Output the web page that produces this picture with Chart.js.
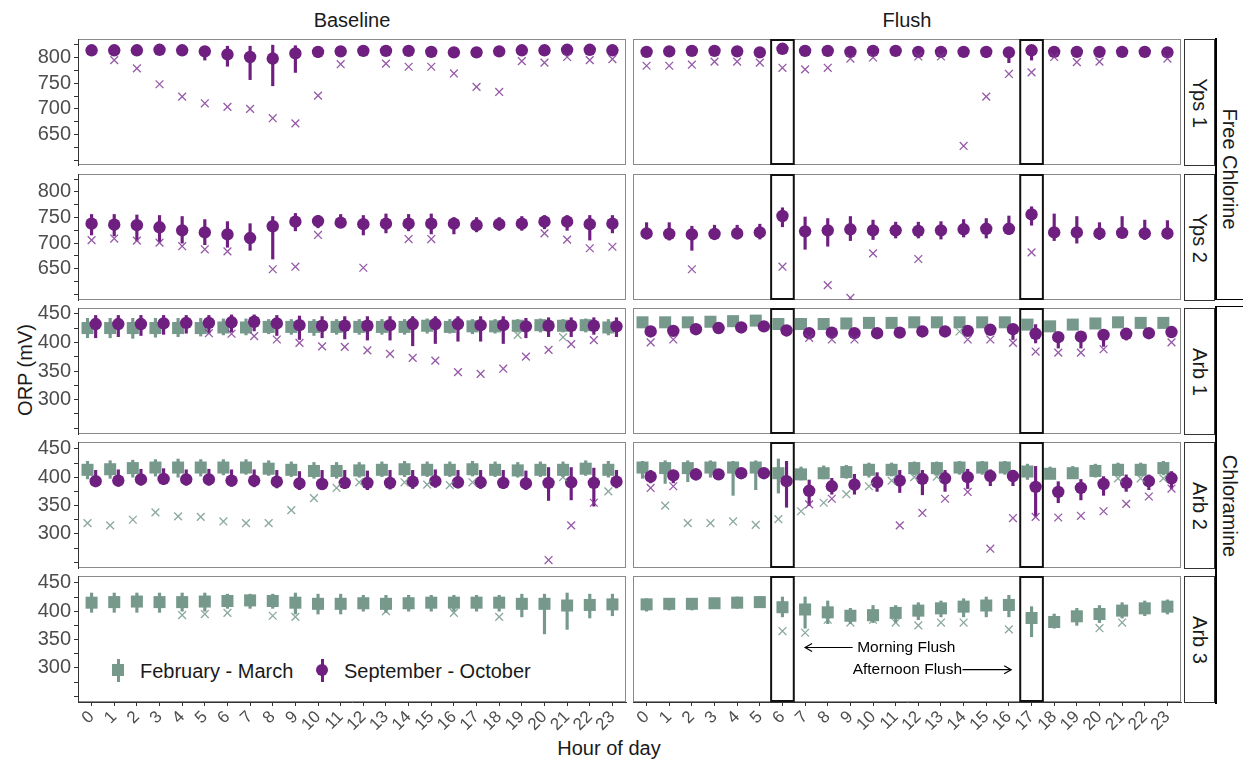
<!DOCTYPE html>
<html><head><meta charset="utf-8">
<script src="https://cdn.jsdelivr.net/npm/chart.js@4.4.1/dist/chart.umd.min.js"></script>
<style>
body{margin:0;background:#fff;width:1243px;height:762px;overflow:hidden;font-family:"Liberation Sans",Arial,sans-serif;}
#wrap{position:relative;width:1243px;height:762px;}
canvas{position:absolute;}
.txt{position:absolute;color:#1a1a1a;font-size:20px;white-space:nowrap;line-height:1;}
.strip{position:absolute;left:1184px;width:31px;height:127px;box-sizing:border-box;border:1px solid #333;background:#fff;}
.strip span,.grp span{position:absolute;left:50%;top:50%;transform:translate(-50%,-50%) rotate(90deg);font-size:20px;color:#1a1a1a;white-space:nowrap;line-height:1;}
.grp{position:absolute;left:1215px;width:28px;border-left:2px solid #000;box-sizing:border-box;}
.lg{position:absolute;}
</style></head>
<body><div id="wrap">
<div class="txt" style="left:352px;top:10px;transform:translateX(-50%);">Baseline</div>
<div class="txt" style="left:907px;top:10px;transform:translateX(-50%);">Flush</div>
<div class="txt" style="left:25px;top:370px;transform:translate(-50%,-50%) rotate(-90deg);">ORP (mV)</div>
<div class="txt" style="left:609px;top:738px;transform:translateX(-50%);">Hour of day</div>
<div class="strip" style="top:39px;"><span>Yps 1</span></div>
<div class="strip" style="top:174px;"><span>Yps 2</span></div>
<div class="strip" style="top:308px;"><span>Arb 1</span></div>
<div class="strip" style="top:442px;"><span>Arb 2</span></div>
<div class="strip" style="top:576px;"><span>Arb 3</span></div>
<div class="grp" style="top:38px;height:262px;border-bottom:1px solid #000;"><span>Free Chlorine</span></div>
<div class="grp" style="top:306px;height:398px;border-top:1px solid #000;"><span>Chloramine</span></div>
<div class="lg" style="left:117px;top:659px;width:2.5px;height:23px;background:#76998c;"></div>
<div class="lg" style="left:112px;top:664px;width:12px;height:12px;background:#76998c;"></div>
<div class="txt" style="left:140px;top:661px;color:#1a1a1a;">February - March</div>
<div class="lg" style="left:321px;top:659px;width:2.5px;height:23px;background:#6e1f80;"></div>
<div class="lg" style="left:316px;top:664px;width:12px;height:12px;border-radius:50%;background:#6e1f80;"></div>
<div class="txt" style="left:344px;top:661px;color:#1a1a1a;">September - October</div>
</div>
<script>
// ---------- data ----------
const hours = [0,1,2,3,4,5,6,7,8,9,10,11,12,13,14,15,16,17,18,19,20,21,22,23];
const hourLabels = ["0","1","2","3","4","5","6","7","8","9","10","11","12","13","14","15","16","17","18","19","20","21","22","23"];
const flushBoxHours = [6, 17];
const freeChlorineTicks = [600,625,650,675,700,725,750,775,800,825];
const freeChlorineLabels = [650,700,750,800];
const chloramineTicks = [250,275,300,325,350,375,400,425,450];
const chloramineLabels = [300,350,400,450];

// Yps 1 - Baseline - September-October
const yps1BaseSepMean = [814,814,814,815,814,812,806,801,798,808,811,812,813,813,813,811,810,810,812,814,814,815,815,814];
const yps1BaseSepLo   = [810,810,810,811,810,795,783,757,745,771,800,805,809,808,807,806,805,805,807,810,810,811,811,810];
const yps1BaseSepHi   = [818,818,818,819,818,817,822,822,824,823,818,817,817,817,818,816,815,815,816,818,818,819,819,818];
const yps1BaseSepMin  = [null,795,779,748,724,711,704,700,682,672,726,787,null,788,782,782,769,743,733,793,790,801,795,797];
// Yps 1 - Flush - September-October
const yps1FlushSepMean = [811,812,813,813,812,810,817,813,813,811,813,813,811,811,811,811,810,814,811,811,811,811,811,810];
const yps1FlushSepLo   = [807,808,809,809,808,806,813,809,809,807,809,809,807,807,807,800,790,795,807,807,807,807,807,804];
const yps1FlushSepHi   = [815,816,817,817,816,814,821,817,817,815,817,817,815,815,815,815,814,818,815,815,815,815,815,814];
const yps1FlushSepMin  = [784,784,786,792,792,790,780,777,780,798,800,null,802,802,628,724,768,771,801,791,792,null,null,798];

// Yps 2 - Baseline - September-October
const yps2BaseSepMean = [738,736,735,731,725,721,717,710,733,742,743,740,737,738,738,738,738,735,737,738,742,742,737,738];
const yps2BaseSepLo   = [716,714,705,702,700,697,692,686,669,724,730,730,716,720,724,718,718,722,725,725,728,725,706,720];
const yps2BaseSepHi   = [756,756,755,754,752,746,742,738,752,758,754,756,754,757,756,757,750,750,750,752,754,754,754,754];
const yps2BaseSepMin  = [706,709,705,701,694,688,684,null,649,654,716,null,652,null,708,708,null,null,null,null,719,707,690,693];
// Yps 2 - Flush - September-October
const yps2FlushSepMean = [719,718,717,718,719,721,753,723,725,727,725,725,724,725,727,728,728,756,721,721,719,720,719,719];
const yps2FlushSepLo   = [708,706,686,708,708,708,732,688,694,705,707,710,710,708,712,710,717,735,705,700,707,712,707,708];
const yps2FlushSepHi   = [740,740,733,735,735,737,769,751,748,752,745,741,741,742,746,748,753,771,757,752,740,752,745,744];
const yps2FlushSepMin  = [null,null,649,null,null,null,654,null,618,593,680,null,669,null,null,null,null,682,null,null,null,null,null,null];

// Arb 1 - Baseline
const arb1BaseFebMean = [425,425,425,425,425,425,426,426,427,427,427,427,427,427,427,429,427,428,428,429,430,429,430,426];
const arb1BaseFebLo   = [408,408,407,409,410,411,413,413,415,414,412,414,414,414,414,416,416,415,416,418,418,418,418,413];
const arb1BaseFebHi   = [442,442,442,442,442,442,441,441,440,440,440,440,440,440,440,441,440,440,440,440,441,440,441,440];
const arb1BaseFebMin  = [null,null,null,null,null,null,null,null,null,null,null,null,null,null,null,null,null,null,null,413,null,409,null,null];
const arb1BaseSepMean = [432,432,432,433,434,434,435,436,433,430,429,429,429,430,432,432,432,430,430,428,429,429,429,428];
const arb1BaseSepLo   = [408,410,412,414,416,416,418,420,412,405,408,406,404,404,394,398,402,402,398,408,410,410,414,410];
const arb1BaseSepHi   = [447,447,447,447,447,447,448,448,447,446,445,445,445,445,445,445,445,445,445,442,443,443,443,443];
const arb1BaseSepMin  = [null,null,null,null,null,416,415,411,405,399,393,392,386,380,373,368,348,345,354,375,387,397,404,null];
// Arb 1 - Flush
const arb1FlushFebMean = [435,435,435,436,437,438,432,432,432,433,434,434,435,435,435,435,435,431,428,431,433,435,434,434];
const arb1FlushFebLo   = [431,431,431,432,433,434,428,428,428,429,430,430,431,431,431,431,431,427,424,427,429,431,430,430];
const arb1FlushFebHi   = [439,439,439,440,441,442,436,436,436,437,438,438,439,439,439,439,439,435,432,435,437,439,438,438];
const arb1FlushFebMin  = [null,null,null,null,null,null,null,null,null,null,null,null,null,null,419,null,null,null,null,null,null,null,null,null];
const arb1FlushSepMean = [419,420,423,425,426,428,421,416,417,416,416,417,419,419,420,422,423,415,409,410,413,415,416,418];
const arb1FlushSepLo   = [415,416,419,421,422,424,411,412,413,412,412,413,415,415,416,417,405,399,390,390,393,404,411,412];
const arb1FlushSepHi   = [423,424,427,429,430,432,425,420,421,420,420,421,423,423,424,426,427,431,416,416,419,421,421,424];
const arb1FlushSepMin  = [400,405,null,null,null,null,null,408,405,405,null,null,null,null,405,405,399,384,382,382,388,null,null,400];

// Arb 2 - Baseline
const arb2BaseFebMean = [413,414,416,417,417,417,417,417,415,413,411,411,412,413,414,413,413,414,413,412,413,413,415,413];
const arb2BaseFebLo   = [397,398,400,402,400,402,404,405,403,401,398,398,400,401,401,401,401,402,401,400,401,401,403,400];
const arb2BaseFebHi   = [428,429,430,431,432,431,431,431,429,427,426,426,426,427,428,427,427,428,427,426,427,427,429,428];
const arb2BaseFebMin  = [319,315,325,338,331,330,322,319,319,342,363,381,391,null,391,387,386,391,null,null,null,400,null,375];
const arb2BaseSepMean = [393,394,396,397,396,396,394,394,392,389,388,390,390,390,392,393,391,391,390,389,390,391,390,392];
const arb2BaseSepLo   = [383,384,386,387,386,386,384,383,381,378,378,380,378,379,380,382,381,380,380,378,359,360,349,381];
const arb2BaseSepHi   = [412,413,414,415,413,414,413,413,412,410,412,412,411,412,412,413,412,412,412,411,417,417,416,412];
const arb2BaseSepMin  = [null,null,null,null,null,null,null,null,null,null,null,null,null,null,null,null,null,null,null,null,254,315,355,null];
// Arb 2 - Flush
const arb2FlushFebMean = [417,416,416,417,417,417,407,405,407,409,413,413,416,416,417,417,417,410,406,407,411,413,413,416];
const arb2FlushFebLo   = [398,389,392,400,368,378,372,395,397,398,400,402,404,404,405,405,405,396,398,398,400,402,402,404];
const arb2FlushFebHi   = [428,429,429,429,428,429,432,418,420,421,425,425,427,427,428,428,428,423,418,419,423,425,425,428];
const arb2FlushFebMin  = [null,350,319,319,322,316,326,340,355,370,384,394,400,401,null,null,null,null,null,null,null,398,398,398];
const arb2FlushSepMean = [401,403,405,405,407,407,393,376,384,387,391,394,397,398,400,402,402,383,374,381,388,390,393,398];
const arb2FlushSepLo   = [390,390,395,398,400,400,347,350,370,370,375,373,369,375,380,385,385,331,355,360,368,375,378,380];
const arb2FlushSepHi   = [412,412,415,414,416,416,428,395,398,405,408,412,412,412,414,413,412,419,392,396,401,404,404,410];
const arb2FlushSepMin  = [381,384,null,null,null,null,null,352,362,null,null,315,337,362,374,274,328,330,329,332,340,353,366,380];

// Arb 3 - Baseline / Flush (February-March only)
const arb3BaseFebMean = [415,416,417,416,416,417,418,419,418,415,413,413,414,413,414,415,415,415,415,413,413,410,411,412];
const arb3BaseFebLo   = [398,398,398,398,400,400,405,405,405,395,395,395,400,398,400,400,400,400,400,390,360,368,388,392];
const arb3BaseFebHi   = [432,432,432,432,432,432,430,430,430,432,430,430,428,428,428,428,428,428,428,430,430,432,430,430];
const arb3BaseFebMin  = [null,null,null,null,393,395,397,null,392,390,null,null,null,400,null,null,397,null,390,null,null,null,null,null];
const arb3FlushFebMean = [412,413,413,414,415,416,407,403,398,392,393,397,401,405,408,410,411,388,381,391,395,401,405,408];
const arb3FlushFebLo   = [400,402,402,405,405,408,390,370,378,378,380,380,385,390,390,390,390,355,370,375,380,388,392,395];
const arb3FlushFebHi   = [422,422,422,422,425,425,425,425,418,405,410,410,415,418,422,425,428,408,395,405,410,415,418,420];
const arb3FlushFebMin  = [null,null,null,null,null,null,365,362,385,380,385,380,375,380,380,null,368,null,null,null,370,380,null,null];

// ---------- styling ----------
const FONT = '"Liberation Sans", Arial, sans-serif';
Chart.defaults.font.family = FONT;
const PURPLE = '#6e1f80', PURPLE_X = 'rgba(130,60,150,0.85)';
const GREEN = '#76998c', GREEN_X = 'rgba(118,153,140,0.85)';
const DODGE = 0.18;

function sep(mean, lo, hi, mn, dx){ return {mean, lo, hi, mn, dx, color:PURPLE, xcolor:PURPLE_X, style:'circle'}; }
function feb(mean, lo, hi, mn, dx){ return {mean, lo, hi, mn, dx, color:GREEN, xcolor:GREEN_X, style:'rect'}; }

function buildDatasets(seriesList){
  const layers = [];
  seriesList.forEach(s => {
    layers.push({type:'bar', grouped:false, barThickness:2.5, backgroundColor:s.color, borderWidth:0,
      data: hours.map((h,i)=> s.mean[i]==null?null:{x:h+s.dx, y:[s.lo[i], s.hi[i]]}).filter(Boolean)});
    layers.push({type:'scatter', showLine:false, pointStyle:s.style, pointRadius:s.style==='rect'?8.5:6.2,
      pointHoverRadius:s.style==='rect'?8.5:6.2, pointBackgroundColor:s.color, pointBorderWidth:0, borderWidth:0,
      data: hours.map((h,i)=> s.mean[i]==null?null:{x:h+s.dx, y:s.mean[i]}).filter(Boolean)});
  });
  seriesList.forEach(s => {
    layers.push({type:'scatter', showLine:false, pointStyle:'crossRot', pointRadius:5.5, pointHoverRadius:5.5,
      pointBorderColor:s.xcolor, pointBorderWidth:1.3, pointBackgroundColor:'transparent',
      data: hours.map((h,i)=> s.mn[i]==null?null:{x:h+s.dx, y:s.mn[i]}).filter(Boolean)});
  });
  layers.forEach((d,i)=>{ d.order = layers.length - i; });
  return layers;
}

const decoPlugin = {
  id:'deco',
  beforeDraw(chart){
    const a = chart.chartArea, ctx = chart.ctx;
    ctx.save(); ctx.strokeStyle = '#8a8a8a'; ctx.lineWidth = 1;
    ctx.strokeRect(a.left+0.5, a.top+0.5, a.width-1, a.height-1); ctx.restore();
  },
  afterDatasetsDraw(chart){
    const o = chart.options.plugins.deco || {};
    const a = chart.chartArea, ctx = chart.ctx, xs = chart.scales.x, ys = chart.scales.y;
    if (o.flush) {
      ctx.save(); ctx.strokeStyle = '#111'; ctx.lineWidth = 2;
      flushBoxHours.forEach(h => {
        const x1 = xs.getPixelForValue(h-0.5), x2 = xs.getPixelForValue(h+0.5);
        ctx.strokeRect(x1, a.top+1, x2-x1, a.height-2);
      });
      ctx.restore();
    }
    if (o.notes) {
      ctx.save(); ctx.fillStyle = '#000'; ctx.strokeStyle = '#000'; ctx.lineWidth = 1.2;
      ctx.font = '15.5px ' + FONT; ctx.textBaseline = 'middle';
      o.notes.forEach(n => {
        const y = ys.getPixelForValue(n.y);
        ctx.textAlign = 'left';
        ctx.fillText(n.text, xs.getPixelForValue(n.tx), y);
        const x1 = xs.getPixelForValue(n.from), x2 = xs.getPixelForValue(n.to);
        ctx.beginPath(); ctx.moveTo(x1, y); ctx.lineTo(x2, y); ctx.stroke();
        const d = x2 > x1 ? -1 : 1;
        ctx.beginPath(); ctx.moveTo(x2 + d*7, y-4); ctx.lineTo(x2, y); ctx.lineTo(x2 + d*7, y+4); ctx.stroke();
      });
      ctx.restore();
    }
  }
};

const rowTops = [39, 174, 308, 442, 576];
const PH = 126, PW = 548;
const colLefts = [78, 633];

function makePanel(row, col, yMin, yMax, yTicks, yLabels, seriesList, extra){
  const isLeft = col === 0, isBottom = row === 4;
  const padL = isLeft ? 0 : 20;
  const axisW = isLeft ? 78 : 0;
  const cLeft = colLefts[col] - axisW - padL;
  const cTop = rowTops[row] - 15;
  const w = axisW + padL + PW + 15;
  const h = 15 + PH + (isBottom ? 45 : 15);
  const cv = document.createElement('canvas');
  cv.width = w; cv.height = h;
  cv.style.left = cLeft + 'px'; cv.style.top = cTop + 'px';
  cv.style.width = w + 'px'; cv.style.height = h + 'px';
  document.getElementById('wrap').appendChild(cv);
  new Chart(cv, {
    type:'scatter',
    data:{datasets: buildDatasets(seriesList)},
    options:{
      responsive:false, animation:false, events:[], devicePixelRatio:1,
      layout:{padding:{left:padL, right:15, top:15, bottom:isBottom?0:15}},
      plugins:{legend:{display:false}, tooltip:{enabled:false}, deco: extra || {}},
      scales:{
        x:{type:'linear', min:-0.6, max:23.6, offset:false, display:isBottom,
          afterBuildTicks:s=>{ s.ticks = hours.map(v=>({value:v})); },
          afterFit:s=>{ s.height = isBottom ? 45 : 0; },
          ticks:{autoSkip:false, minRotation:45, maxRotation:45, padding:1, color:'#4d4d4d',
            font:{size:17, family:FONT}, callback:(v,i)=>hourLabels[i]},
          grid:{drawOnChartArea:false, offset:false, drawTicks:true, tickLength:4, color:'#333'},
          border:{display:true, color:'#333', width:1}},
        y:{type:'linear', min:yMin, max:yMax, beginAtZero:false, position:'left', display:isLeft,
          afterBuildTicks:s=>{ s.ticks = yTicks.map(v=>({value:v})); },
          afterFit:s=>{ s.width = isLeft ? 78 : 0; },
          ticks:{autoSkip:false, padding:3, color:'#4d4d4d', font:{size:20, family:FONT},
            callback:v=> yLabels.includes(v) ? String(v) : ''},
          grid:{drawOnChartArea:false, drawTicks:true, tickLength:4, color:'#333'},
          border:{display:true, color:'#333', width:1}}
      }
    },
    plugins:[decoPlugin]
  });
}

const notes = [
  {text:'Morning Flush', tx:9.3, y:336, from:9.1, to:7.0},
  {text:'Afternoon Flush', tx:9.1, y:297, from:13.95, to:16.1}
];

makePanel(0,0,591,836,freeChlorineTicks,freeChlorineLabels,[sep(yps1BaseSepMean,yps1BaseSepLo,yps1BaseSepHi,yps1BaseSepMin,0)]);
makePanel(0,1,591,836,freeChlorineTicks,freeChlorineLabels,[sep(yps1FlushSepMean,yps1FlushSepLo,yps1FlushSepHi,yps1FlushSepMin,0)],{flush:true});
makePanel(1,0,589,835,freeChlorineTicks,freeChlorineLabels,[sep(yps2BaseSepMean,yps2BaseSepLo,yps2BaseSepHi,yps2BaseSepMin,0)]);
makePanel(1,1,589,835,freeChlorineTicks,freeChlorineLabels,[sep(yps2FlushSepMean,yps2FlushSepLo,yps2FlushSepHi,yps2FlushSepMin,0)],{flush:true});
makePanel(2,0,240,460,chloramineTicks,chloramineLabels,[feb(arb1BaseFebMean,arb1BaseFebLo,arb1BaseFebHi,arb1BaseFebMin,-DODGE),sep(arb1BaseSepMean,arb1BaseSepLo,arb1BaseSepHi,arb1BaseSepMin,DODGE)]);
makePanel(2,1,240,460,chloramineTicks,chloramineLabels,[feb(arb1FlushFebMean,arb1FlushFebLo,arb1FlushFebHi,arb1FlushFebMin,-DODGE),sep(arb1FlushSepMean,arb1FlushSepLo,arb1FlushSepHi,arb1FlushSepMin,DODGE)],{flush:true});
makePanel(3,0,240,462,chloramineTicks,chloramineLabels,[feb(arb2BaseFebMean,arb2BaseFebLo,arb2BaseFebHi,arb2BaseFebMin,-DODGE),sep(arb2BaseSepMean,arb2BaseSepLo,arb2BaseSepHi,arb2BaseSepMin,DODGE)]);
makePanel(3,1,240,462,chloramineTicks,chloramineLabels,[feb(arb2FlushFebMean,arb2FlushFebLo,arb2FlushFebHi,arb2FlushFebMin,-DODGE),sep(arb2FlushSepMean,arb2FlushSepLo,arb2FlushSepHi,arb2FlushSepMin,DODGE)],{flush:true});
makePanel(4,0,240,462,chloramineTicks,chloramineLabels,[feb(arb3BaseFebMean,arb3BaseFebLo,arb3BaseFebHi,arb3BaseFebMin,0)]);
makePanel(4,1,240,462,chloramineTicks,chloramineLabels,[feb(arb3FlushFebMean,arb3FlushFebLo,arb3FlushFebHi,arb3FlushFebMin,0)],{flush:true, notes});
</script>
</body></html>
